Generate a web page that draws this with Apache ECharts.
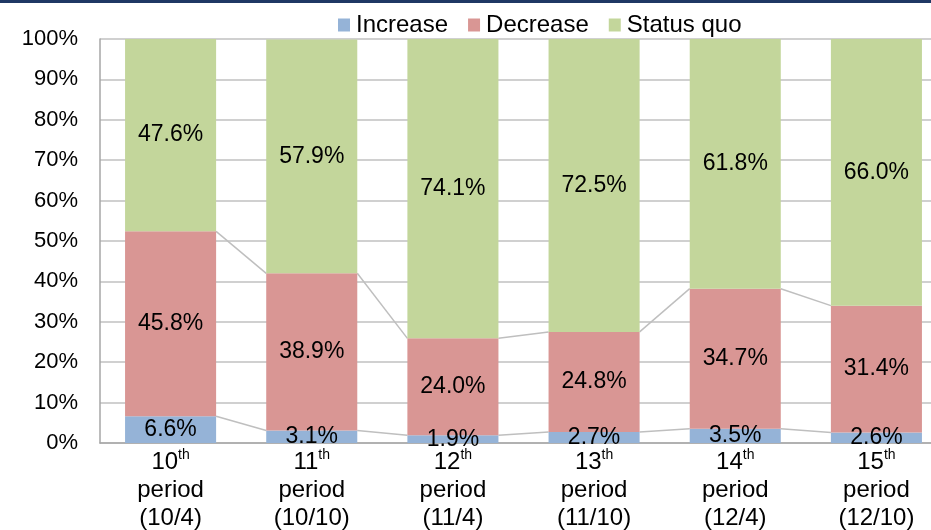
<!DOCTYPE html>
<html>
<head>
<meta charset="utf-8">
<script src="https://cdn.jsdelivr.net/npm/echarts@6/dist/echarts.min.js"></script>
<style>
  html, body { margin: 0; padding: 0; background: #fff; overflow: hidden; }
  #chart { width: 947px; height: 530px; }
</style>
</head>
<body>
<div id="chart"></div>
<script>
// period labels: number, date
const periodNums = ['10', '11', '12', '13', '14', '15']
const periodDates = ['(10/4)', '(10/10)', '(11/4)', '(11/10)', '(12/4)', '(12/10)']
const increase = [6.6, 3.1, 1.9, 2.7, 3.5, 2.6]
const decrease = [45.8, 38.9, 24.0, 24.8, 34.7, 31.4]
const statusQuo = [47.6, 57.9, 74.1, 72.5, 61.8, 66.0]
const yTicks = [0, 10, 20, 30, 40, 50, 60, 70, 80, 90, 100]

const barFrac = 0.645
const categories = periodNums.map((n, i) => i)

// cumulative tops for the series lines
const topInc = increase.slice()
const topDec = increase.map((v, i) => v + decrease[i])

function linkData (tops) {
  let out = []
  for (let i = 0; i < tops.length - 1; i++) {
    out.push([i, tops[i], tops[i + 1]])
  }
  return out
}

function renderLink (params, api) {
  let i = api.value(0)
  let p1 = api.coord([i, api.value(1)])
  let p2 = api.coord([i + 1, api.value(2)])
  let half = api.size([1, 0])[0] * barFrac / 2
  return {
    type: 'line',
    shape: { x1: p1[0] + half, y1: p1[1], x2: p2[0] - half, y2: p2[1] },
    style: { stroke: '#BFBFBF', lineWidth: 1.5 }
  }
}

const labelStyle = {
  show: true,
  position: 'inside',
  color: '#000',
  fontSize: 23,
  formatter: p => p.value.toFixed(1) + '%'
}

let myChart = echarts.init(document.getElementById('chart'))
myChart.setOption({
  animation: false,
  textStyle: { fontFamily: '"Liberation Sans", Arial, sans-serif' },
  graphic: [
    { type: 'rect', left: 0, top: 0, shape: { width: 947, height: 3 }, style: { fill: '#1F3864' } }
  ],
  legend: {
    data: ['Increase', 'Decrease', 'Status quo'],
    left: 333,
    top: 8,
    itemWidth: 12,
    itemHeight: 13,
    itemGap: 20,
    icon: 'rect',
    textStyle: { fontSize: 24, color: '#000', padding: [0, 0, 0, 1] }
  },
  grid: { left: 100, right: 0, top: 39, bottom: 87, outerBoundsMode: 'none' },
  xAxis: {
    type: 'category',
    data: categories,
    axisLine: { lineStyle: { color: '#A6A6A6', width: 1.5 } },
    axisTick: { show: false },
    axisLabel: {
      margin: 5,
      lineHeight: 28,
      formatter: i => '{n|' + periodNums[i] + '}{s|th}\n{t|period}\n{t|' + periodDates[i] + '}',
      rich: {
        n: { fontSize: 24, color: '#000', lineHeight: 28 },
        s: { fontSize: 14, color: '#000', verticalAlign: 'top', lineHeight: 28, padding: [0, 0, 8, 0] },
        t: { fontSize: 24, color: '#000', lineHeight: 28 }
      }
    }
  },
  yAxis: {
    type: 'value',
    min: 0,
    max: 100,
    interval: 10,
    axisLine: { show: true, lineStyle: { color: '#A6A6A6', width: 1.5 } },
    axisTick: { show: false },
    splitLine: { lineStyle: { color: '#C0C0C0', width: 1.5 } },
    axisLabel: {
      margin: 22,
      fontSize: 22,
      color: '#000',
      customValues: yTicks,
      formatter: v => v + '%'
    }
  },
  series: [
    {
      name: 'Increase', type: 'bar', stack: 'all', data: increase,
      barWidth: (barFrac * 100) + '%',
      itemStyle: { color: '#95B3D7' }, label: labelStyle
    },
    {
      name: 'Decrease', type: 'bar', stack: 'all', data: decrease,
      itemStyle: { color: '#D99694' }, label: labelStyle
    },
    {
      name: 'Status quo', type: 'bar', stack: 'all', data: statusQuo,
      itemStyle: { color: '#C3D69B' }, label: labelStyle
    },
    {
      type: 'custom', renderItem: renderLink, data: linkData(topInc),
      encode: { x: 0, y: 1 }, silent: true, z: 1
    },
    {
      type: 'custom', renderItem: renderLink, data: linkData(topDec),
      encode: { x: 0, y: 1 }, silent: true, z: 1
    }
  ]
})
</script>
</body>
</html>
